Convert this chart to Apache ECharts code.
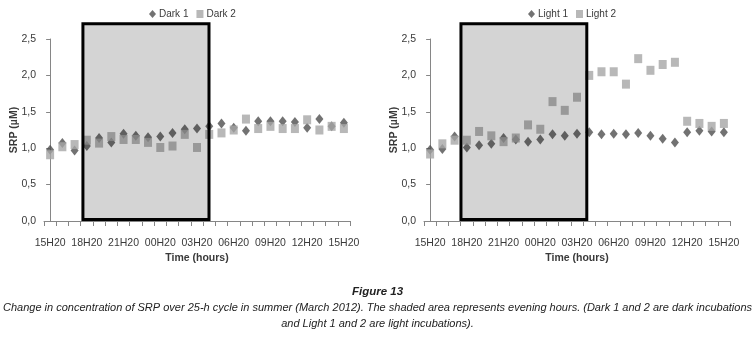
<!DOCTYPE html>
<html><head><meta charset="utf-8">
<script src="https://cdn.jsdelivr.net/npm/echarts@6/dist/echarts.min.js"></script>
<style>html,body{margin:0;padding:0;background:#fff}#c{width:755px;height:337px}</style>
</head><body><div id="c"></div>
<script>
const hours = ['15H20','16H20','17H20','18H20','19H20','20H20','21H20','22H20','23H20','00H20','01H20','02H20','03H20','04H20','05H20','06H20','07H20','08H20','09H20','10H20','11H20','12H20','13H20','14H20','15H20'];
const dark1 = [0.98,1.07,0.97,1.03,1.14,1.08,1.20,1.17,1.15,1.16,1.21,1.26,1.27,1.30,1.34,1.28,1.24,1.37,1.37,1.37,1.36,1.28,1.40,1.30,1.35];
const dark2 = [0.91,1.02,1.05,1.11,1.07,1.16,1.12,1.12,1.08,1.01,1.03,1.19,1.01,1.19,1.21,1.25,1.40,1.27,1.30,1.27,1.27,1.39,1.25,1.30,1.27];
const light1 = [0.98,0.99,1.16,1.01,1.04,1.06,1.14,1.12,1.09,1.12,1.19,1.17,1.20,1.22,1.19,1.20,1.19,1.21,1.17,1.13,1.08,1.22,1.24,1.23,1.22];
const light2 = [0.92,1.06,1.11,1.11,1.23,1.17,1.09,1.14,1.32,1.26,1.64,1.52,1.70,2.00,2.05,2.05,1.88,2.23,2.07,2.15,2.18,1.37,1.34,1.30,1.34];
// evening (shaded) period, in hour-index units (0 = first 15H20)
const shadeDark = [[2.68, 12.98, 0.02, 2.71]];
const shadeLight = [[2.52, 12.8, 0.02, 2.71]];
const yTicks = [0, 0.5, 1.0, 1.5, 2.0, 2.5];

const chart = echarts.init(document.getElementById('c'));
const FONT = '"Liberation Sans Narrow","Liberation Sans",sans-serif';
const txt = '#3a3a3a';
function xCat(gi){
  return {type:'category', gridIndex:gi, data:hours, boundaryGap:true,
    axisLine:{lineStyle:{color:'#868686'}},
    axisTick:{show:true, interval:0, length:5, lineStyle:{color:'#868686'}},
    axisLabel:{interval:2, margin:17, fontSize:10.5, color:txt, fontFamily:FONT},
    name:'Time (hours)', nameLocation:'middle', nameGap:32, nameMoveOverlap:false,
    nameTextStyle:{fontSize:10.5, fontWeight:'bold', color:txt, fontFamily:FONT}};
}
function xVal(gi){
  return {type:'value', gridIndex:gi, min:-0.5, max:hours.length-0.5, show:false};
}
function yAx(gi){
  return {type:'value', gridIndex:gi, min:yTicks[0], max:yTicks[yTicks.length-1], interval:0.5,
    splitLine:{show:false},
    axisLine:{show:true, lineStyle:{color:'#868686'}},
    axisTick:{show:true, length:4, lineStyle:{color:'#868686'}},
    axisLabel:{margin:8, fontSize:10.5, color:txt, fontFamily:FONT, formatter:v=>v.toFixed(1).replace('.',',')},
    name:'SRP (µM)', nameLocation:'middle', nameGap:24, nameRotate:90, nameMoveOverlap:false,
    nameTextStyle:{fontSize:10.5, fontWeight:'bold', color:txt, fontFamily:FONT}};
}
function box(xi, yi, data){
  return {type:'custom', xAxisIndex:xi, yAxisIndex:yi, clip:false, z:5, silent:true,
    data:data,
    renderItem:(params, api)=>{
      const p0 = api.coord([api.value(0), api.value(2)]);
      const p1 = api.coord([api.value(1), api.value(3)]);
      return {type:'rect', shape:{x:p0[0], y:p1[1], width:p1[0]-p0[0], height:p0[1]-p1[1]},
        style:{fill:'rgba(0,0,0,0.17)', stroke:'#000', lineWidth:3}};
    }};
}
const diamondColor = '#4f4f4f', squareColor = '#a6a6a6';
function sc(name, xi, yi, data, isSq){
  return {name:name, type:'scatter', xAxisIndex:xi, yAxisIndex:yi, data:data,
    symbol: isSq ? 'rect' : 'diamond', symbolSize: isSq ? [8,9] : [8,10],
    itemStyle:{color: isSq ? squareColor : diamondColor}, z: isSq ? 3 : 2};
}
const gridBase = {top:39, width:306, height:182, outerBoundsMode:'none', containLabel:false};
const legBase = {top:9, padding:0, itemWidth:7, itemHeight:8, itemGap:8,
  textStyle:{fontSize:10, color:txt, fontFamily:FONT, padding:[0,0,0,-2]}};
chart.setOption({
  animation:false,
  textStyle:{fontFamily:FONT},
  title:[
    {text:'Figure 13', left:'center', top:281, textStyle:{fontSize:11.5, fontWeight:'bold', fontStyle:'italic', color:'#222', fontFamily:FONT}},
    {text:'Change in concentration of SRP over 25-h cycle in summer (March 2012). The shaded area represents evening hours. (Dark 1 and 2 are dark incubations', left:'center', top:297, textStyle:{fontSize:11, fontWeight:'normal', fontStyle:'italic', color:'#222', fontFamily:FONT}},
    {text:'and Light 1 and 2 are light incubations).', left:'center', top:313, textStyle:{fontSize:11, fontWeight:'normal', fontStyle:'italic', color:'#222', fontFamily:FONT}}
  ],
  legend:[
    Object.assign({data:['Dark 1','Dark 2'], left:149}, legBase),
    Object.assign({data:['Light 1','Light 2'], left:528}, legBase)
  ],
  grid:[
    Object.assign({left:44}, gridBase),
    Object.assign({left:424}, gridBase)
  ],
  xAxis:[xCat(0), xCat(1), xVal(0), xVal(1)],
  yAxis:[yAx(0), yAx(1)],
  series:[
    sc('Dark 1',0,0,dark1,false),
    sc('Dark 2',0,0,dark2,true),
    sc('Light 1',1,1,light1,false),
    sc('Light 2',1,1,light2,true),
    box(2,0,shadeDark),
    box(3,1,shadeLight)
  ]
});
</script></body></html>
